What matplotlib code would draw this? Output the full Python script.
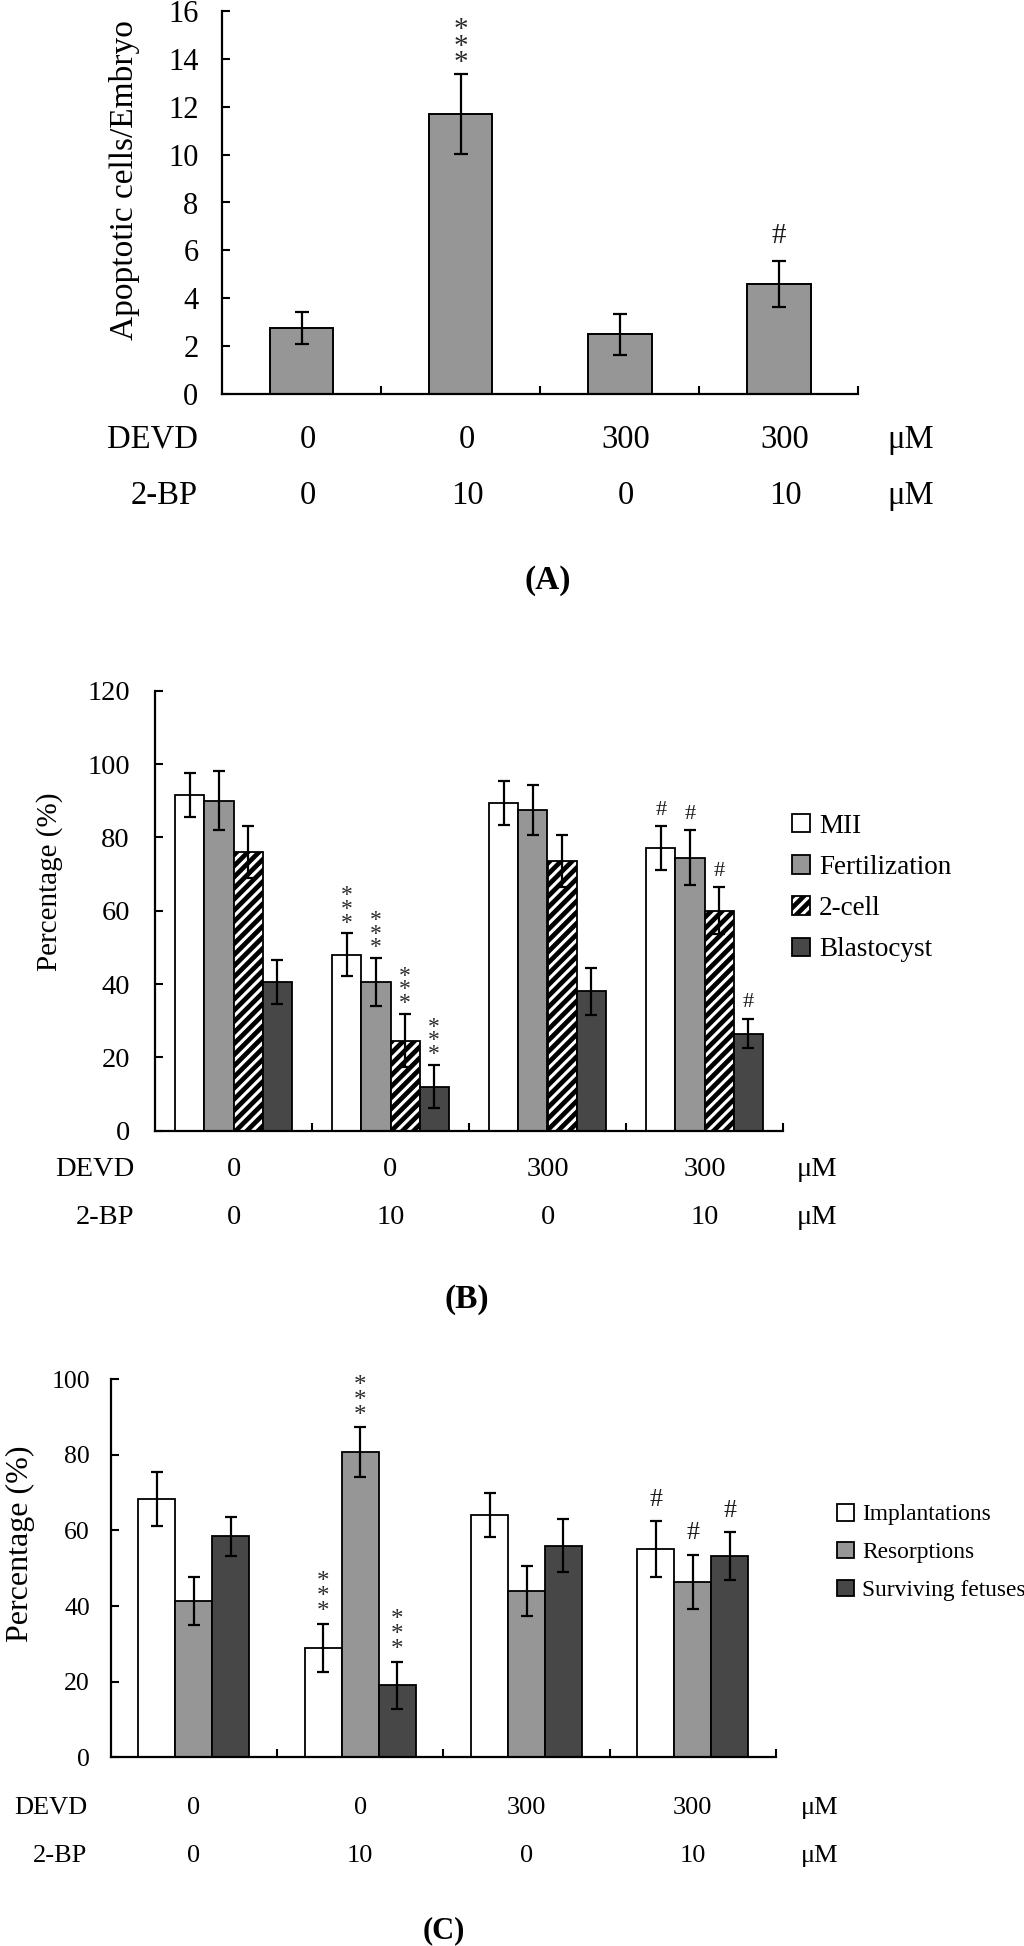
import matplotlib
matplotlib.use('Agg')
import matplotlib.pyplot as plt
from matplotlib.transforms import blended_transform_factory
import numpy as np

plt.rcParams['font.family'] = ['Liberation Serif', 'DejaVu Serif']
plt.rcParams['hatch.linewidth'] = 3.4

# treatment rows under every panel
devd = ['0', '0', '300', '300']
bp = ['0', '10', '0', '10']

# (A) apoptotic cells per embryo
a_mean = [2.75, 11.7, 2.5, 4.6]
a_err = [0.67, 1.67, 0.85, 0.97]
a_marks = ['', '***', '', '#']

# (B) percentages, one row per series, one column per treatment
b_names = ['MII', 'Fertilization', '2-cell', 'Blastocyst']
b_mean = [[91.5, 48.0, 89.5, 77.0],
          [90.0, 40.5, 87.4, 74.5],
          [76.0, 24.6, 73.6, 60.0],
          [40.5, 12.0, 38.0, 26.5]]
b_err = [[6.0, 5.8, 6.0, 6.0],
         [8.0, 6.5, 6.8, 7.5],
         [7.0, 7.2, 7.0, 6.4],
         [6.0, 5.9, 6.5, 4.0]]
b_marks = [['', '***', '', '#'],
           ['', '***', '', '#'],
           ['', '***', '', '#'],
           ['', '***', '', '#']]

# (C) pregnancy outcome
c_names = ['Implantations', 'Resorptions', 'Surviving fetuses']
c_mean = [[68.3, 29.0, 64.1, 55.1],
          [41.3, 80.6, 44.0, 46.4],
          [58.4, 19.1, 55.9, 53.3]]
c_err = [[7.2, 6.3, 5.9, 7.3],
         [6.4, 6.6, 6.6, 7.2],
         [5.2, 6.2, 7.0, 6.3]]
c_marks = [['', '***', '', '#'],
           ['', '***', '', '#'],
           ['', '***', '', '#']]

W, H, DPI = 1024, 1946, 100
PT = DPI / 72.0

fig = plt.figure(figsize=(W / DPI, H / DPI), dpi=DPI)


def fx(px):
    return px / W


def fy(py):
    return 1 - py / H


def box(l, t, r, b):
    return [l / W, 1 - b / H, (r - l) / W, (b - t) / H]


def style_axis(ax, ymax, ystep, fs, pad):
    ax.set_xlim(-0.5, 3.5)
    ax.set_ylim(0, ymax)
    ax.set_yticks(np.arange(0, ymax + 1, ystep))
    ax.set_xticks([0.5, 1.5, 2.5, 3.5])
    ax.set_xticklabels([])
    for s in ['top', 'right']:
        ax.spines[s].set_visible(False)
    for s in ['left', 'bottom']:
        ax.spines[s].set_linewidth(1.6)
    ax.tick_params(axis='y', direction='in', length=6, width=1.5, labelsize=fs, pad=pad)
    ax.tick_params(axis='x', direction='in', length=6, width=1.5)


def base(yc, fs):
    # baseline pixel for text whose capitals are centred on yc
    return yc + 0.33 * fs * PT


def cond_rows(ax, y1, y2, fs, name_right, um_x, shift=0.0):
    tr = blended_transform_factory(ax.transData, fig.transFigure)
    for i in range(4):
        ax.text(i + shift, fy(base(y1, fs)), devd[i], transform=tr,
                ha='center', va='baseline', fontsize=fs)
        ax.text(i + shift, fy(base(y2, fs)), bp[i], transform=tr,
                ha='center', va='baseline', fontsize=fs)
    fig.text(fx(name_right), fy(base(y1, fs)), 'DEVD', ha='right', va='baseline', fontsize=fs)
    fig.text(fx(name_right), fy(base(y2, fs)), '2-BP', ha='right', va='baseline', fontsize=fs)
    fig.text(fx(um_x), fy(base(y1, fs)), 'μM', ha='center', va='baseline', fontsize=fs)
    fig.text(fx(um_x), fy(base(y2, fs)), 'μM', ha='center', va='baseline', fontsize=fs)


def mark(ax, x, top, sym, star_fs, hash_fs, first_px, pitch_px, hash_px):
    if sym == '***':
        em = star_fs * PT
        ls = (pitch_px / em - 0.217) / 0.683
        ax.annotate('*\n*\n*', xy=(x, top), xytext=(0, first_px / PT - 0.767 * star_fs),
                    textcoords='offset points', ha='center', va='bottom',
                    fontsize=star_fs, color='#2a2a2a', linespacing=ls)
    elif sym == '#':
        ax.annotate('#', xy=(x, top), xytext=(0, hash_px / PT - 0.34 * hash_fs),
                    textcoords='offset points', ha='center', va='baseline',
                    fontsize=hash_fs, color='#1a1a1a')


ekw = dict(elinewidth=1.6, capthick=1.6, ecolor='black')

# ---------------- (A) ----------------
axA = fig.add_axes(box(222, 10.7, 858.3, 394.3))
xA = np.arange(4)
axA.bar(xA, a_mean, width=0.4, color='#969696', edgecolor='black', linewidth=1.4,
        yerr=a_err, capsize=5, error_kw=ekw)
style_axis(axA, 16, 2, 22, 17)
for i in range(4):
    mark(axA, xA[i], a_mean[i] + a_err[i], a_marks[i], 21, 21, 20, 16.7, 28)
fig.text(fx(124), fy(180), 'Apoptotic cells/Embryo', rotation=90,
         ha='center', va='center', fontsize=24)
cond_rows(axA, 437, 493, 23.5, 198, 911, shift=0.04)
fig.text(fx(548), fy(base(578, 24)), '(A)', ha='center', va='baseline',
         fontsize=24, fontweight='bold')

# ---------------- (B) ----------------
axB = fig.add_axes(box(155, 690.7, 783, 1130.7))
b_fill = ['white', '#969696', 'white', '#474747']
b_hatch = [None, None, '///', None]
wB = 0.185
handlesB = []
for s in range(4):
    xs = np.arange(4) + (s - 1.5) * wB
    bars = axB.bar(xs, b_mean[s], width=wB, color=b_fill[s], edgecolor='black',
                   linewidth=1.3, hatch=b_hatch[s], yerr=b_err[s], capsize=4,
                   error_kw=ekw, label=b_names[s])
    handlesB.append(bars)
    for i in range(4):
        mark(axB, xs[i], b_mean[s][i] + b_err[s][i], b_marks[s][i], 17, 16, 18, 14, 19)
style_axis(axB, 120, 20, 20.5, 18)
fig.text(fx(50), fy(882), 'Percentage (%)', rotation=90, ha='center', va='center', fontsize=21)
cond_rows(axB, 1167, 1215, 20.5, 134, 817)
fig.text(fx(467), fy(base(1297, 24)), '(B)', ha='center', va='baseline',
         fontsize=24, fontweight='bold')
fig.legend(handles=handlesB, labels=b_names, loc='center left',
           bbox_to_anchor=(fx(792), fy(888)), frameon=False, fontsize=19.5,
           handlelength=0.67, handleheight=0.67, handletextpad=0.33,
           labelspacing=0.6, borderpad=0, borderaxespad=0)

# ---------------- (C) ----------------
axC = fig.add_axes(box(110.7, 1379, 776, 1757.4))
c_fill = ['white', '#969696', '#474747']
wC = 0.222
handlesC = []
for s in range(3):
    xs = np.arange(4) + (s - 1) * wC
    bars = axC.bar(xs, c_mean[s], width=wC, color=c_fill[s], edgecolor='black',
                   linewidth=1.3, yerr=c_err[s], capsize=4.5, error_kw=ekw,
                   label=c_names[s])
    handlesC.append(bars)
    for i in range(4):
        mark(axC, xs[i], c_mean[s][i] + c_err[s][i], c_marks[s][i], 18, 18.5, 20, 15.3, 24)
style_axis(axC, 100, 20, 18.5, 15)
fig.text(fx(20), fy(1544), 'Percentage (%)', rotation=90, ha='center', va='center', fontsize=23)
cond_rows(axC, 1805, 1853, 19, 87, 820)
fig.text(fx(444), fy(base(1928, 22)), '(C)', ha='center', va='baseline',
         fontsize=22, fontweight='bold')
fig.legend(handles=handlesC, labels=c_names, loc='center left',
           bbox_to_anchor=(fx(837), fy(1552.5)), frameon=False, fontsize=16.8,
           handlelength=0.72, handleheight=0.72, handletextpad=0.35,
           labelspacing=0.7, borderpad=0, borderaxespad=0)

fig.savefig('out.png', dpi=DPI)
